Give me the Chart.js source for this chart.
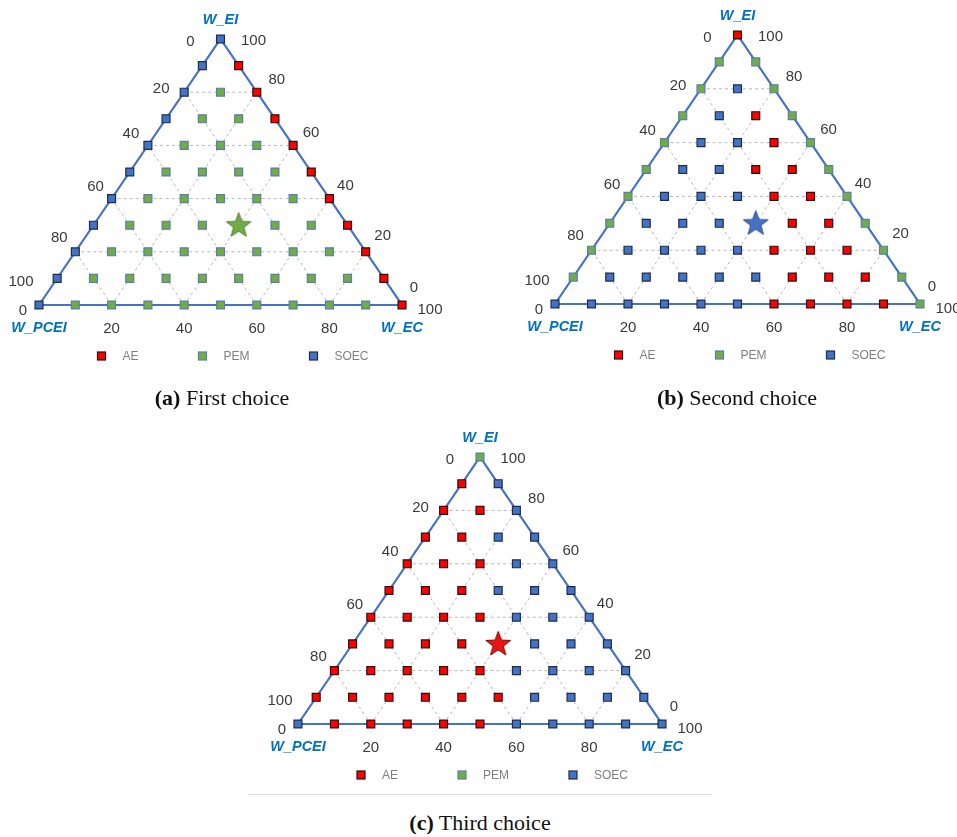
<!DOCTYPE html>
<html>
<head>
<meta charset="utf-8">
<script src="https://cdn.jsdelivr.net/npm/chart.js@4.4.1/dist/chart.umd.min.js"></script>
<style>
  body { margin: 0; background: #fff; }
  #page { position: relative; width: 957px; height: 837px; overflow: hidden; background: #fff; }
  #page canvas { position: absolute; }
  .caption {
    position: absolute; width: 300px; text-align: center;
    font-family: 'Liberation Serif', 'Times New Roman', serif; font-size: 22px;
    line-height: 26px; color: #111;
  }
  .rule { position: absolute; left: 248px; top: 794px; width: 464px; height: 1px; background: #dcdcdc; }
</style>
</head>
<body>
<div id="page">
  <canvas id="chartA" width="478" height="380" style="left:0px;top:0px"></canvas>
  <canvas id="chartB" width="479" height="380" style="left:478px;top:0px"></canvas>
  <canvas id="chartC" width="480" height="380" style="left:240px;top:410px"></canvas>
  <div class="caption" style="left:72px;top:385px"><b>(a)</b> First choice</div>
  <div class="caption" style="left:587px;top:385px"><b>(b)</b> Second choice</div>
  <div class="rule"></div>
  <div class="caption" style="left:330px;top:810px"><b>(c)</b> Third choice</div>
</div>
<script>
// technologies
const techCodes = ['A', 'P', 'S'];
const techNames = ['AE', 'PEM', 'SOEC'];

// winning technology on the 10% grid, one string per row
// rows go from W_EI = 100 (top) down to W_EI = 0, inside a row W_EC goes 0, 10, 20 ...
const firstChoice = [
  'S',
  'SA',
  'SPA',
  'SPPA',
  'SPPPA',
  'SPPPPA',
  'SPPPPPA',
  'SPPPPPPA',
  'SPPPPPPPA',
  'SPPPPPPPPA',
  'SPPPPPPPPPA'
];
const secondChoice = [
  'A',
  'PP',
  'PSP',
  'PSAP',
  'PSSAP',
  'PSSAAP',
  'PSSSAAP',
  'PSSSSAAP',
  'PSSSSAAAP',
  'PSSSSSAAAP',
  'SSSSSSAAAAP'
];
const thirdChoice = [
  'P',
  'AS',
  'AAS',
  'AASS',
  'AAASS',
  'AAASSS',
  'AAAASSS',
  'AAAAASSS',
  'AAAAASSSS',
  'AAAAAASSSS',
  'SAAAAASSSSS'
];

// star = chosen weights [W_PCEI, W_EC, W_EI]
const starWeights = [30, 40, 30];

const tickValues = [0, 20, 40, 60, 80, 100];
const gridLevels = [20, 40, 60, 80];

// styles
const techFill = ['#FF0000', '#70AD47', '#4472C4'];
const techBorder = ['#2a1010', '#5b7ea6', '#1f2d4d'];
const starFill = ['#E81515', '#70AD47', '#4472C4'];
const starBorder = ['#7a0000', '#4e7a31', '#2a4a85'];
const edgeColor = '#4472C4';
const gridColor = '#b8b8b8';
const nameColor = '#0070C0';
const tickColor = '#3a3a3a';

// label offsets (px) from the edge points, same order as tickValues
const leftOffsets = [[-30, 3], [-23, -3], [-17, -12], [-16, -12], [-16, -14], [-18, -23]];
const rightOffsets = [[33, 2], [20, -12], [18, -13], [16, -13], [17, -16], [12, -17]];
const bottomOffsets = [[-16, 6], [0, 24], [0, 24], [0, 24], [0, 24], [28, 5]];
const legendDx = [-119, -18, 93];

function toXY(pcei, ec, ei) {
  return { x: ec + ei / 2, y: ei };
}

function isStar(pcei, ec, ei) {
  return pcei === starWeights[0] && ec === starWeights[1] && ei === starWeights[2];
}

function pointsFor(rows, code) {
  const pts = [];
  rows.forEach((row, r) => {
    const ei = 100 - r * 10;
    row.split('').forEach((c, j) => {
      const ec = j * 10;
      const pcei = 100 - ei - ec;
      if (c === code && !isStar(pcei, ec, ei)) pts.push(toXY(pcei, ec, ei));
    });
  });
  return pts;
}

function makeStar(fill, stroke) {
  const c = document.createElement('canvas');
  c.width = 30; c.height = 30;
  const g = c.getContext('2d');
  const R = 13, r = 5.4;
  g.beginPath();
  for (let i = 0; i < 10; i++) {
    const rad = i % 2 === 0 ? R : r;
    const a = -Math.PI / 2 + i * Math.PI / 5;
    const px = 15 + rad * Math.cos(a), py = 15.5 + rad * Math.sin(a);
    if (i === 0) g.moveTo(px, py); else g.lineTo(px, py);
  }
  g.closePath();
  g.fillStyle = fill;
  g.fill();
  g.lineWidth = 1;
  g.strokeStyle = stroke;
  g.stroke();
  return c;
}

const textPlugin = {
  id: 'ternaryText',
  afterDraw(chart) {
    const ctx = chart.ctx;
    const sx = chart.scales.x, sy = chart.scales.y;
    const px = (pcei, ec, ei) => {
      const p = toXY(pcei, ec, ei);
      return [sx.getPixelForValue(p.x), sy.getPixelForValue(p.y)];
    };
    ctx.save();
    ctx.textAlign = 'center';
    ctx.textBaseline = 'middle';
    ctx.fillStyle = tickColor;
    ctx.font = '15px "Liberation Sans", Arial, sans-serif';
    tickValues.forEach((v, i) => {
      // left edge: W_PCEI, right edge: W_EI, bottom: W_EC
      let p = px(v, 0, 100 - v);
      ctx.fillText(String(v), p[0] + leftOffsets[i][0], p[1] + leftOffsets[i][1]);
      p = px(0, 100 - v, v);
      ctx.fillText(String(v), p[0] + rightOffsets[5 - i][0], p[1] + rightOffsets[5 - i][1]);
      p = px(100 - v, v, 0);
      ctx.fillText(String(v), p[0] + bottomOffsets[i][0], p[1] + bottomOffsets[i][1]);
    });

    ctx.fillStyle = nameColor;
    ctx.font = 'italic bold 14.5px "Liberation Sans", Arial, sans-serif';
    let p = px(0, 0, 100);
    ctx.fillText('W_EI', p[0], p[1] - 19);
    p = px(100, 0, 0);
    ctx.fillText('W_PCEI', p[0], p[1] + 23);
    p = px(0, 100, 0);
    ctx.fillText('W_EC', p[0], p[1] + 23);

    // legend
    const apex = px(0, 0, 100);
    const ly = px(100, 0, 0)[1] + 51;
    ctx.font = '12px "Liberation Sans", Arial, sans-serif';
    ctx.textAlign = 'left';
    techNames.forEach((name, i) => {
      const lx = apex[0] + legendDx[i];
      ctx.fillStyle = techFill[i];
      ctx.strokeStyle = techBorder[i];
      ctx.lineWidth = 1.2;
      ctx.fillRect(lx - 4, ly - 4, 8, 8);
      ctx.strokeRect(lx - 4, ly - 4, 8, 8);
      ctx.fillStyle = '#7f7f7f';
      ctx.fillText(name, lx + 21, ly + 1);
    });
    ctx.restore();
  }
};

function buildChart(canvasId, rows, pad) {
  const datasets = [];

  gridLevels.forEach(t => {
    const lines = [
      [toXY(100 - t, 0, t), toXY(0, 100 - t, t)],
      [toXY(100 - t, t, 0), toXY(0, t, 100 - t)],
      [toXY(t, 100 - t, 0), toXY(t, 0, 100 - t)]
    ];
    lines.forEach(data => datasets.push({
      label: 'grid', data, showLine: true, borderColor: gridColor, borderWidth: 1,
      borderDash: [3, 3], pointRadius: 0, order: 3, clip: false
    }));
  });

  datasets.push({
    label: 'edge',
    data: [toXY(100, 0, 0), toXY(0, 0, 100), toXY(0, 100, 0), toXY(100, 0, 0)],
    showLine: true, borderColor: edgeColor, borderWidth: 2.2, pointRadius: 0,
    order: 2, clip: false
  });

  techCodes.forEach((code, i) => {
    datasets.push({
      label: techNames[i], data: pointsFor(rows, code), pointStyle: 'rect',
      pointRadius: 5.6, backgroundColor: techFill[i], borderColor: techBorder[i],
      borderWidth: 1.2, order: 1, clip: false
    });
  });

  const starCode = rows[(100 - starWeights[2]) / 10][starWeights[1] / 10];
  const k = techCodes.indexOf(starCode);
  datasets.push({
    label: 'chosen', data: [toXY(starWeights[0], starWeights[1], starWeights[2])],
    pointStyle: makeStar(starFill[k], starBorder[k]), pointRadius: 13, order: 0, clip: false
  });

  new Chart(document.getElementById(canvasId), {
    type: 'scatter',
    data: { datasets },
    options: {
      responsive: false,
      animation: false,
      events: [],
      layout: { padding: pad },
      scales: {
        x: { type: 'linear', min: 0, max: 100, display: false },
        y: { type: 'linear', min: 0, max: 100, display: false }
      },
      plugins: { legend: { display: false }, tooltip: { enabled: false } }
    },
    plugins: [textPlugin]
  });
}

buildChart('chartA', firstChoice, { left: 39, right: 76, top: 39, bottom: 75 });
buildChart('chartB', secondChoice, { left: 77, right: 37, top: 35, bottom: 76 });
buildChart('chartC', thirdChoice, { left: 58, right: 58, top: 47, bottom: 66 });
</script>
</body>
</html>
